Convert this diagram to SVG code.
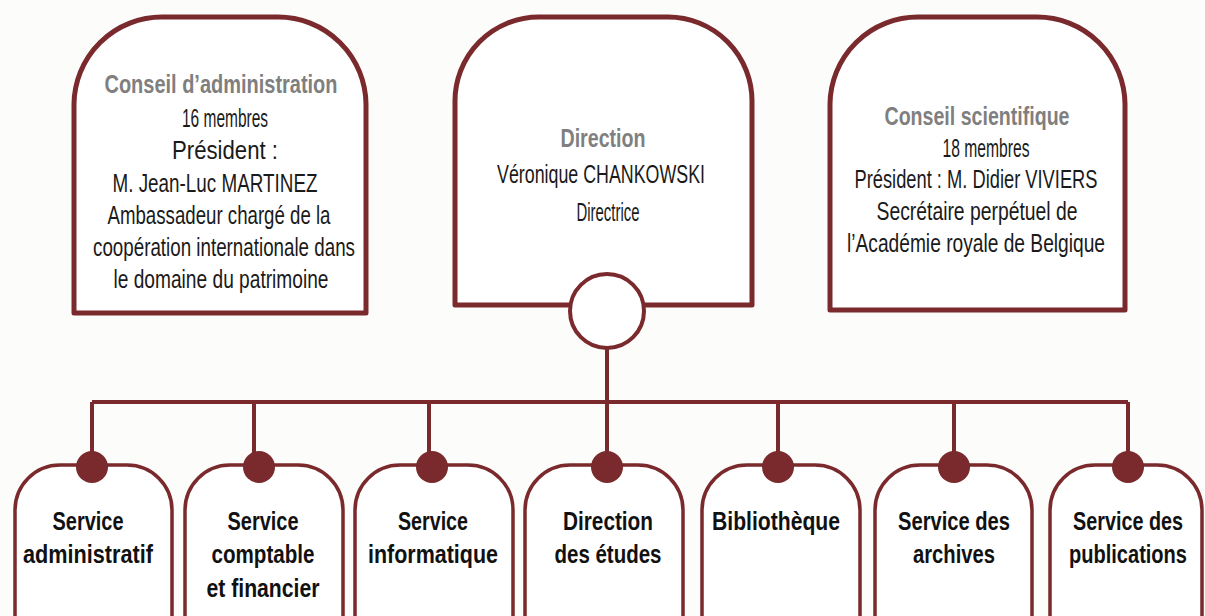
<svg xmlns="http://www.w3.org/2000/svg" width="1205" height="616" viewBox="0 0 1205 616">
<style>
.bg{fill:#fcfcfb}
.big{fill:#fff;stroke:#7a2a2c;stroke-width:5;stroke-linejoin:round}
.small{fill:#fff;stroke:#7a2a2c;stroke-width:3.5;stroke-linejoin:round}
.wire{fill:none;stroke:#7a2a2c;stroke-width:4}
.dot{fill:#7a2a2c}
.hub{fill:#fff;stroke:#7a2a2c;stroke-width:4}
text{font-family:"Liberation Sans Narrow","Liberation Sans",Arial,sans-serif;font-size:25px;text-anchor:middle;fill:#1a1a1a}
.title{font-weight:bold;fill:#7f7f7f}
.svc{font-weight:bold;fill:#111}
</style>
<rect class="bg" x="0" y="0" width="1205" height="616"/>

<g id="connectors">
  <path class="wire" d="M92,402 H1128"/>
  <path class="wire" d="M607,348 V402"/>
  <path class="wire" d="M92,402 V466"/>
  <path class="wire" d="M254,402 V466"/>
  <path class="wire" d="M429,402 V466"/>
  <path class="wire" d="M607,402 V466"/>
  <path class="wire" d="M778,402 V466"/>
  <path class="wire" d="M954,402 V466"/>
  <path class="wire" d="M1128,402 V466"/>
</g>

<g id="conseil-administration">
  <path class="big" d="M74,313 V104 A88,88 0 0 1 162,17 H278 A88,88 0 0 1 366,104 V313 Z"/>
  <text class="title" x="221" y="93" textLength="233" lengthAdjust="spacingAndGlyphs">Conseil d’administration</text>
  <text x="225" y="127" textLength="86" lengthAdjust="spacingAndGlyphs">16 membres</text>
  <text x="225" y="159" textLength="106" lengthAdjust="spacingAndGlyphs">Président :</text>
  <text x="215" y="192" textLength="205" lengthAdjust="spacingAndGlyphs">M. Jean-Luc MARTINEZ</text>
  <text x="219" y="224" textLength="223" lengthAdjust="spacingAndGlyphs">Ambassadeur chargé de la</text>
  <text x="224" y="256" textLength="262" lengthAdjust="spacingAndGlyphs">coopération internationale dans</text>
  <text x="221" y="288" textLength="215" lengthAdjust="spacingAndGlyphs">le domaine du patrimoine</text>
</g>

<g id="direction">
  <path class="big" d="M455,305 V102 A84,84 0 0 1 539,17 H668 A84,84 0 0 1 752,102 V305 Z"/>
  <text class="title" x="603" y="147" textLength="85" lengthAdjust="spacingAndGlyphs">Direction</text>
  <text x="601" y="183" textLength="208" lengthAdjust="spacingAndGlyphs">Véronique CHANKOWSKI</text>
  <text x="608" y="221" textLength="63" lengthAdjust="spacingAndGlyphs">Directrice</text>
  <circle class="hub" cx="607" cy="311" r="37"/>
</g>

<g id="conseil-scientifique">
  <path class="big" d="M830,310 V104 A88,88 0 0 1 918,17 H1037 A88,88 0 0 1 1125,104 V310 Z"/>
  <text class="title" x="977" y="125" textLength="185" lengthAdjust="spacingAndGlyphs">Conseil scientifique</text>
  <text x="986" y="157" textLength="87" lengthAdjust="spacingAndGlyphs">18 membres</text>
  <text x="976" y="188" textLength="243" lengthAdjust="spacingAndGlyphs">Président : M. Didier VIVIERS</text>
  <text x="977" y="220" textLength="201" lengthAdjust="spacingAndGlyphs">Secrétaire perpétuel de</text>
  <text x="976" y="252" textLength="258" lengthAdjust="spacingAndGlyphs">l’Académie royale de Belgique</text>
</g>

<g id="service-administratif">
  <path class="small" d="M15,620 V510 A45,45 0 0 1 60,465 H127 A45,45 0 0 1 172,510 V620"/>
  <circle class="dot" cx="92" cy="467" r="16"/>
  <text class="svc" x="88" y="530" textLength="71" lengthAdjust="spacingAndGlyphs">Service</text>
  <text class="svc" x="88" y="563" textLength="130" lengthAdjust="spacingAndGlyphs">administratif</text>
</g>

<g id="service-comptable">
  <path class="small" d="M185,620 V510 A45,45 0 0 1 230,465 H298 A45,45 0 0 1 343,510 V620"/>
  <circle class="dot" cx="259" cy="467" r="16"/>
  <text class="svc" x="263" y="530" textLength="71" lengthAdjust="spacingAndGlyphs">Service</text>
  <text class="svc" x="263" y="563" textLength="103" lengthAdjust="spacingAndGlyphs">comptable</text>
  <text class="svc" x="263" y="597" textLength="113" lengthAdjust="spacingAndGlyphs">et financier</text>
</g>

<g id="service-informatique">
  <path class="small" d="M355,620 V510 A45,45 0 0 1 400,465 H468 A45,45 0 0 1 513,510 V620"/>
  <circle class="dot" cx="432" cy="467" r="16"/>
  <text class="svc" x="433" y="530" textLength="70" lengthAdjust="spacingAndGlyphs">Service</text>
  <text class="svc" x="433" y="563" textLength="130" lengthAdjust="spacingAndGlyphs">informatique</text>
</g>

<g id="direction-etudes">
  <path class="small" d="M525,620 V510 A45,45 0 0 1 570,465 H638 A45,45 0 0 1 683,510 V620"/>
  <circle class="dot" cx="607" cy="467" r="16"/>
  <text class="svc" x="608" y="530" textLength="90" lengthAdjust="spacingAndGlyphs">Direction</text>
  <text class="svc" x="608" y="563" textLength="107" lengthAdjust="spacingAndGlyphs">des études</text>
</g>

<g id="bibliotheque">
  <path class="small" d="M702,620 V510 A45,45 0 0 1 747,465 H815 A45,45 0 0 1 860,510 V620"/>
  <circle class="dot" cx="778" cy="467" r="16"/>
  <text class="svc" x="776" y="530" textLength="128" lengthAdjust="spacingAndGlyphs">Bibliothèque</text>
</g>

<g id="service-archives">
  <path class="small" d="M875,620 V510 A45,45 0 0 1 920,465 H987 A45,45 0 0 1 1032,510 V620"/>
  <circle class="dot" cx="954" cy="467" r="16"/>
  <text class="svc" x="954" y="530" textLength="112" lengthAdjust="spacingAndGlyphs">Service des</text>
  <text class="svc" x="954" y="563" textLength="82" lengthAdjust="spacingAndGlyphs">archives</text>
</g>

<g id="service-publications">
  <path class="small" d="M1050,620 V510 A45,45 0 0 1 1095,465 H1157 A45,45 0 0 1 1202,510 V620"/>
  <circle class="dot" cx="1128" cy="467" r="16"/>
  <text class="svc" x="1128" y="530" textLength="110" lengthAdjust="spacingAndGlyphs">Service des</text>
  <text class="svc" x="1128" y="563" textLength="118" lengthAdjust="spacingAndGlyphs">publications</text>
</g>
</svg>
